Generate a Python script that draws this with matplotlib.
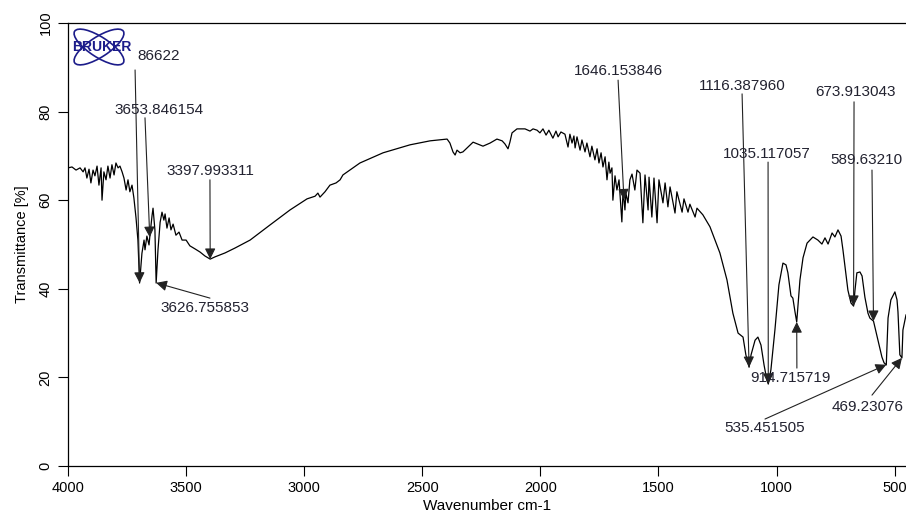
import numpy as np
import matplotlib.pyplot as plt
from matplotlib.patches import Ellipse

plt.rcParams['font.family'] = ['Liberation Sans', 'DejaVu Sans']

# Espectro (numero de onda, transmitancia %)
numero_onda = [
    4000, 3983, 3966, 3949, 3936, 3928, 3920, 3911, 3903, 3894, 3886, 3877, 3869, 3860, 3856,
    3848, 3839, 3831, 3822, 3814, 3805, 3797, 3788, 3780, 3771, 3763, 3754, 3746, 3738, 3729,
    3721, 3712, 3704, 3696.9, 3687, 3678, 3674, 3666, 3657, 3653, 3644, 3640, 3632, 3626.8, 3619,
    3610, 3602, 3594, 3589, 3581, 3572, 3564, 3555, 3543, 3530, 3517, 3500, 3484, 3462, 3441,
    3420, 3398.0, 3378, 3335, 3293, 3229, 3145, 3060, 2988, 2954, 2942, 2933, 2912, 2891, 2865,
    2848, 2836, 2764, 2666, 2552, 2467, 2395, 2383, 2370, 2361, 2353, 2340, 2328, 2285, 2243,
    2213, 2184, 2162, 2150, 2137, 2129, 2120, 2099, 2065, 2044, 2031, 2014, 2002, 1989, 1976,
    1964, 1947, 1934, 1925, 1913, 1896, 1883, 1875, 1866, 1858, 1853, 1845, 1832, 1824, 1811,
    1803, 1790, 1782, 1769, 1760, 1752, 1743, 1735, 1726, 1718, 1710, 1705, 1697, 1693, 1684,
    1676, 1667, 1655, 1650, 1642, 1638, 1629, 1621, 1612, 1600, 1591, 1578, 1566, 1557, 1544,
    1540, 1528, 1519, 1506, 1498, 1481, 1472, 1460, 1451, 1430, 1422, 1400, 1392, 1375, 1367,
    1345, 1337, 1312, 1282, 1240, 1210, 1185, 1163, 1142, 1130, 1116.4, 1108, 1091, 1079, 1066,
    1053, 1041, 1035.1, 1024, 1007, 990, 973, 960, 952, 939, 931, 922, 914.7, 901, 888,
    871, 846, 825, 808, 795, 782, 765, 753, 740, 727, 719, 710, 698, 685, 673.9,
    668, 660, 647, 638, 626, 613, 605, 589.6, 583, 571, 554, 545, 535.5, 528, 516,
    499, 490, 486, 478, 469.2, 465, 452,
]
transmitancia = [
    67.3, 67.5, 66.8, 67.3, 66.4, 67.3, 65.0, 67.0, 63.9, 66.8, 65.5, 67.7, 63.4, 67.3, 60.0,
    66.4, 64.6, 67.7, 65.0, 68.0, 65.7, 68.4, 67.3, 67.7, 66.4, 65.0, 62.3, 64.6, 61.9, 63.4,
    60.5, 56.0, 51.0, 41.3, 48.0, 51.0, 48.8, 51.9, 49.9, 52.1, 56.6, 58.2, 53.3, 41.3, 48.8,
    55.0, 57.3, 55.5, 56.9, 53.7, 56.0, 53.3, 54.6, 52.1, 52.8, 51.0, 51.0, 49.7, 49.0, 48.3,
    47.4, 46.7, 47.2, 48.1, 49.2, 51.0, 54.4, 57.8, 60.3, 60.9, 61.6, 60.7, 61.9, 63.4, 63.9,
    64.6, 65.7, 68.4, 70.7, 72.5, 73.4, 73.8, 72.9, 70.9, 70.2, 71.3, 70.7, 70.9, 73.1, 72.2,
    72.9, 73.8, 73.4, 72.7, 71.6, 73.1, 75.2, 76.1, 76.1, 75.6, 76.1, 75.8, 75.2, 76.1, 74.7,
    75.8, 74.0, 75.6, 74.3, 75.4, 74.9, 72.0, 74.9, 72.9, 74.5, 71.8, 74.3, 71.3, 73.6, 70.9,
    72.9, 69.8, 72.2, 69.1, 71.6, 68.4, 70.7, 67.5, 69.8, 64.6, 68.6, 66.1, 67.3, 60.0, 65.5,
    62.3, 64.6, 55.1, 62.3, 57.8, 61.6, 59.4, 64.6, 65.9, 62.3, 66.8, 66.1, 54.9, 65.7, 57.8,
    65.2, 56.2, 65.0, 54.9, 64.6, 59.4, 63.9, 58.5, 63.0, 57.1, 61.9, 57.3, 60.3, 57.3, 59.1,
    56.2, 58.2, 56.7, 54.0, 48.1, 42.0, 34.5, 30.0, 29.1, 25.1, 22.3, 25.1, 28.4, 29.1, 27.3,
    22.8, 19.4, 18.5, 21.7, 30.7, 40.9, 45.8, 45.4, 43.6, 38.4, 37.9, 34.8, 32.5, 42.0, 47.0,
    50.3, 51.7, 51.0, 50.1, 51.5, 50.1, 52.6, 51.7, 53.3, 51.9, 48.8, 44.9, 39.7, 36.8, 36.1,
    39.7, 43.6, 43.8, 42.9, 38.1, 34.5, 33.4, 32.7, 31.2, 28.4, 24.6, 23.3, 22.8, 33.4, 37.5,
    39.3, 37.5, 34.8, 25.1, 24.4, 30.7, 34.1,
]

# Picos marcados
picos = [3696.86622, 3653.846154, 3397.993311, 3626.755853, 1646.153846, 1116.387960,
         1035.117057, 673.913043, 589.632107, 914.715719, 535.451505, 469.230769]
etiquetas = ["86622", "3653.846154", "3397.993311", "3626.755853", "1646.153846", "1116.387960",
             "1035.117057", "673.913043", "589.63210", "914.715719", "535.451505", "469.23076"]

# colocacion de cada etiqueta: (x texto, y texto, alineacion, x cola, y cola)
colocacion = [
    (3708, 92.6, 'left', 3716, 89.4),
    (3615, 80.4, 'center', 3674, 78.6),
    (3399, 66.6, 'center', 3399, 64.6),
    (3420, 35.7, 'center', 3399, 37.9),
    (1671, 89.2, 'center', 1671, 87.1),
    (1146, 85.8, 'center', 1146, 84.0),
    (1041, 70.4, 'center', 1036, 68.6),
    (664, 84.4, 'center', 672, 82.2),
    (774, 69.1, 'left', 596, 66.8),
    (943, 19.9, 'center', 914, 22.1),
    (1049, 8.6, 'center', 1049, 10.6),
    (765, 13.3, 'left', 596, 16.0),
]

fig = plt.figure(figsize=(9.06, 5.15), dpi=100)
ax = fig.add_axes([68 / 906, 49 / 515, 838 / 906, 443 / 515])

ax.plot(numero_onda, transmitancia, color='black', lw=0.9)

wn_asc = np.array(numero_onda)[::-1]
t_asc = np.array(transmitancia)[::-1]
color_txt = '#222230'
for pico, txt, (tx, ty, ha, cx, cy) in zip(picos, etiquetas, colocacion):
    punta = np.interp(pico, wn_asc, t_asc)
    ax.annotate('', xy=(pico, punta), xytext=(cx, cy),
                arrowprops=dict(arrowstyle='-|>', color='#222222', lw=0.8,
                                mutation_scale=16, shrinkA=0, shrinkB=0))
    ax.text(tx, ty, txt, ha=ha, va='center', fontsize=11, color=color_txt)

ax.set_xlim(4000, 452)
ax.set_ylim(0, 100)
ax.set_xticks(np.arange(4000, 499, -500))
ax.set_yticks(np.arange(0, 101, 20))
for lbl in ax.get_yticklabels():
    lbl.set_rotation(90)
    lbl.set_va('center')
ax.tick_params(direction='out', length=7, width=0.8, labelsize=10.5, pad=4)
ax.spines['right'].set_visible(False)
for s in ['left', 'top', 'bottom']:
    ax.spines[s].set_linewidth(0.9)
ax.set_xlabel('Wavenumber cm-1', fontsize=11, labelpad=3)
ax.set_ylabel('Transmittance [%]', fontsize=10.5, labelpad=7)

# logo
logo = fig.add_axes([68 / 906, 1 - 68 / 515, 70 / 906, 43 / 515])
logo.set_xlim(0, 70)
logo.set_ylim(0, 43)
logo.axis('off')
azul = '#1c1c8a'
for ang in (33, -33):
    logo.add_patch(Ellipse((31, 21), 58, 20, angle=ang, fill=False, ec=azul, lw=1.2))
logo.text(34, 21, 'BRUKER', ha='center', va='center', fontsize=10, fontweight='bold',
          color=azul)

fig.savefig('out.png', dpi=100)
